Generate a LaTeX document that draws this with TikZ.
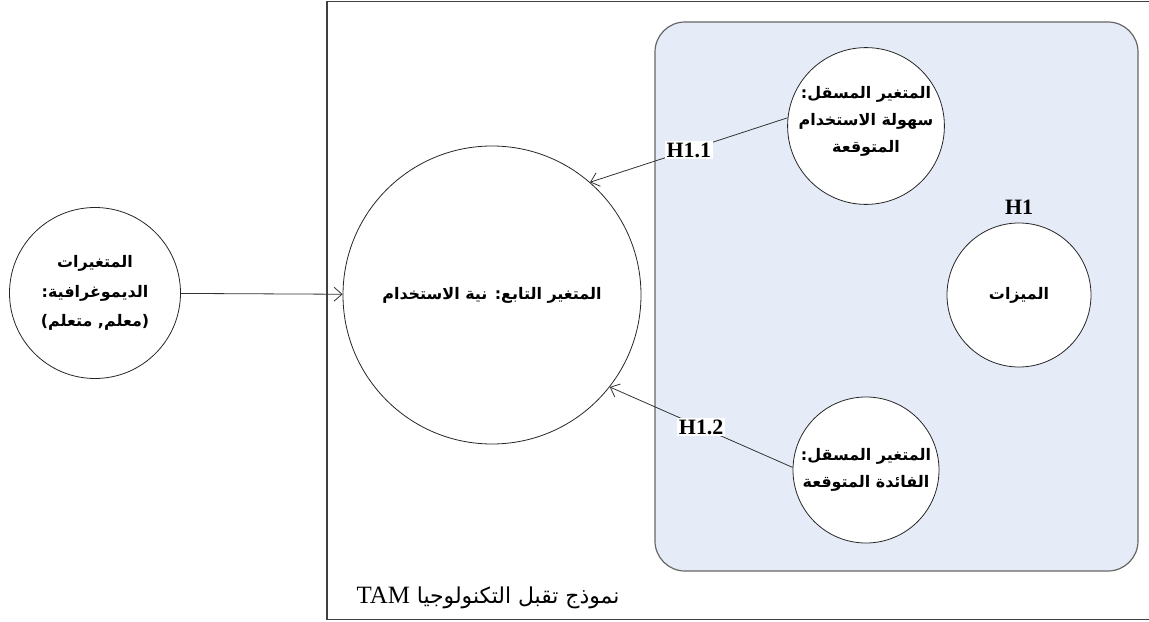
\documentclass[tikz,border=0pt]{standalone}
\usepackage{fontspec}
\setmainfont{Liberation Serif}
\newfontfamily\arabicfont[Script=Arabic]{DejaVu Sans}
\newfontfamily\plainsans{DejaVu Sans}
\TeXXeTstate=1
\usetikzlibrary{arrows.meta,positioning}

\definecolor{panelblue}{RGB}{230,236,247}
\newcommand{\arline}[1]{\beginR #1\endR}

\tikzset{
  var/.style={circle, draw=black!85, fill=white, line width=0.8bp, inner sep=0pt,
    align=center, font=\arabicfont\bfseries\fontsize{16}{27}\selectfont},
  hyp/.style={fill=white, inner sep=1.5bp, font=\bfseries\fontsize{22}{24}\selectfont},
  link/.style={draw=black!80, line width=0.8bp, -{Straight Barb[length=8bp,width=14bp]}},
  frame/.style={draw=black!75, line width=1.2bp},
  panel/.style={draw=black!60, line width=1.2bp, fill=panelblue, rounded corners=30bp},
}

\begin{document}
\begin{tikzpicture}[x=1bp,y=-1bp]
  \useasboundingbox (0,0) rectangle (1149,622);
  \draw[frame] (327,1.5) rectangle (1165,619.5);
  \draw[panel] (655,22) rectangle (1138,571);
  \node[font=\arabicfont\fontsize{22}{24}\selectfont] (tam) at (488,598)
    {\arline{نموذج تقبل التكنولوجيا \beginL{\rmfamily\fontsize{25}{26}\selectfont TAM}\endL}};

  \node[var, minimum size=171bp, font=\arabicfont\bfseries\fontsize{16}{30}\selectfont] (demo) at (95,293)
    {\arline{المتغيرات}\\ \arline{الديموغرافية:}\\
     {\plainsans(}\hbox{متعلم} \hbox{\plainsans,}\hbox{معلم}{\plainsans)}};
  \node[var, minimum size=298bp] (intent) at (492,295)
    {\arline{المتغير التابع: نية الاستخدام}};
  \node[var, minimum size=146bp] (ease) at (866,126)
    {\raisebox{14bp}{\shortstack{\arline{المتغير المسقل:}\\[8bp] \arline{سهولة الاستخدام}\\[8bp] \arline{المتوقعة}}}};
  \node[var, minimum size=144bp] (feat) at (1019,295) {\arline{الميزات}};
  \node[var, minimum size=146bp] (useful) at (866,470)
    {\arline{المتغير المسقل:}\\ \arline{الفائدة المتوقعة}};
  \node[hyp, fill=none, above=6bp of feat] (h1) {H1};

  \draw[link] (ease.174) -- node[hyp] {H1.1} (intent.49);
  \draw[link] (useful.178) -- node[hyp] {H1.2} (intent.-38);
  \draw[link] (demo) -- (intent);
\end{tikzpicture}
\end{document}
